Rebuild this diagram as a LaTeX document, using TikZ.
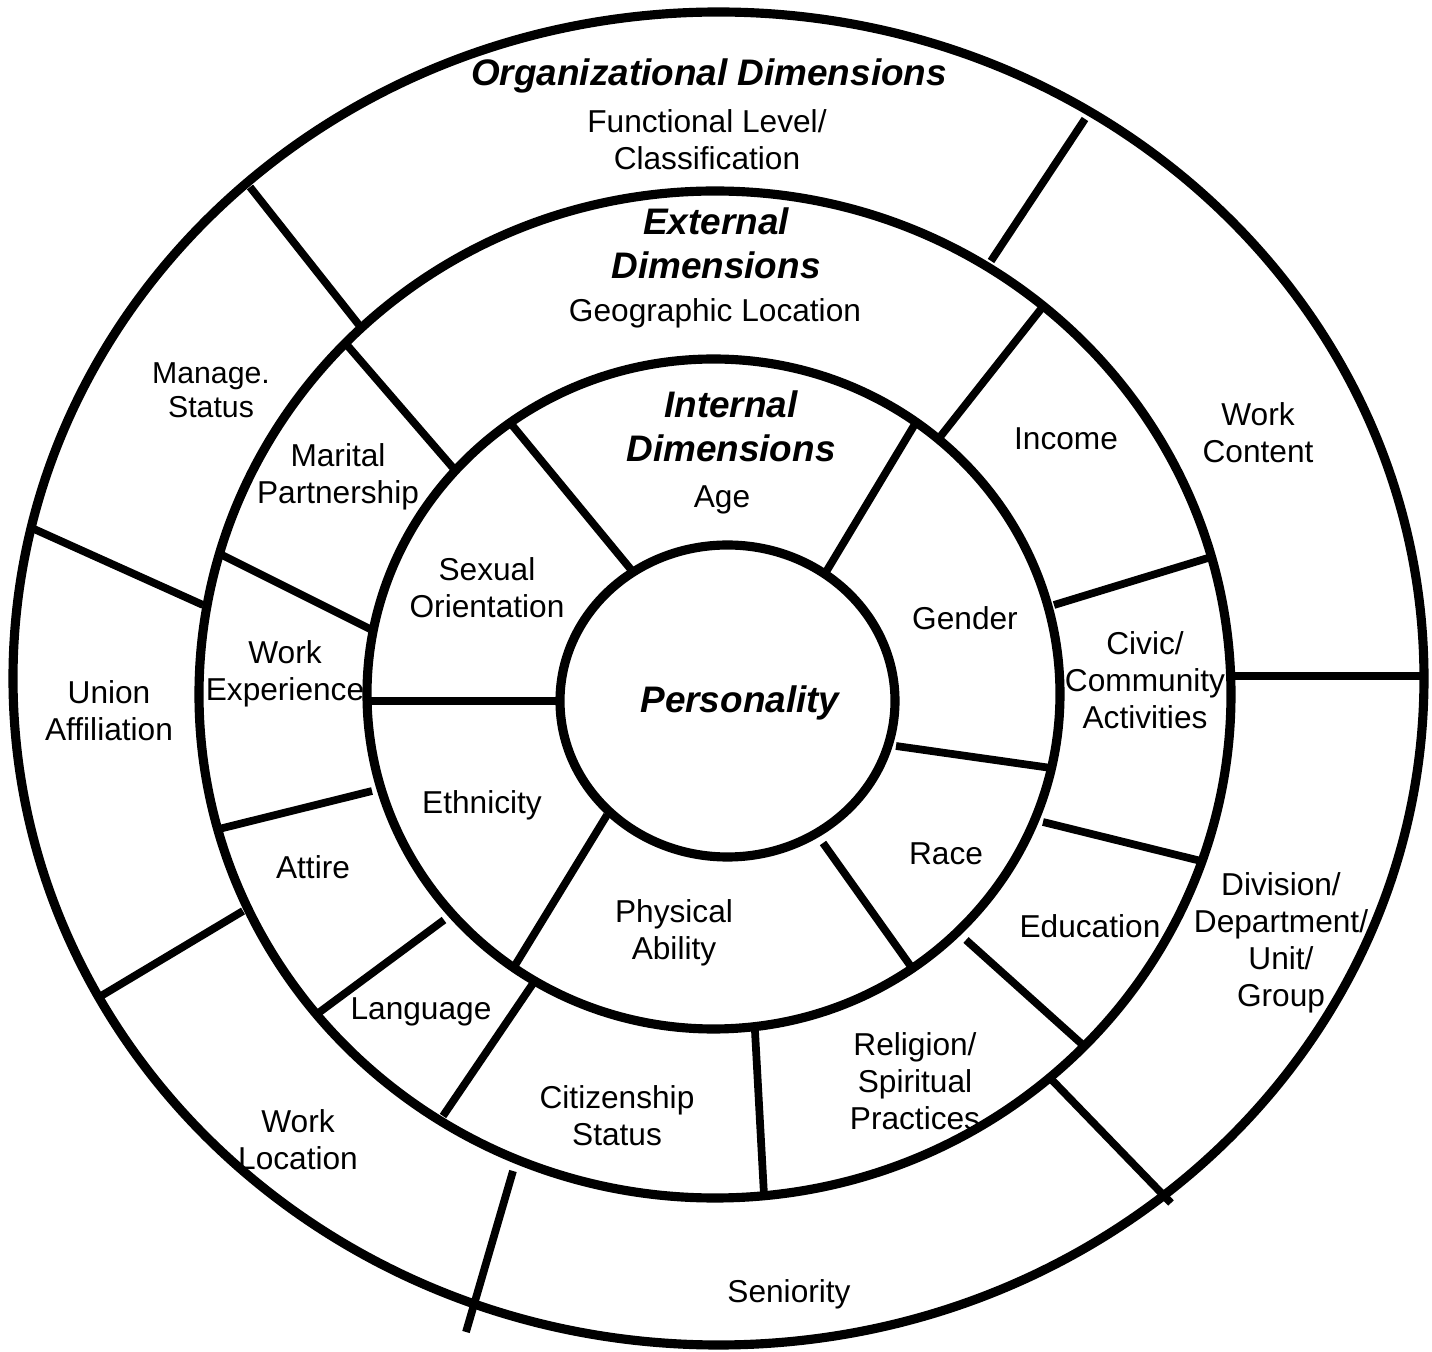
\documentclass[tikz,border=0pt]{standalone}
\usepackage{fontspec}
\setmainfont{Liberation Sans}
\usepackage{tikz}
\tikzset{>=latex}
\def\ringwidth{2.6pt}
\def\splitwidth{2.2pt}
\tikzset{
  ring/.style={line width=\ringwidth},
  split/.style={line width=\splitwidth},
  dimtext/.style={font=\fontsize{9}{10.5}\selectfont, align=center, inner sep=0pt},
  dimsmall/.style={font=\fontsize{8.6}{9.7}\selectfont, align=center, inner sep=0pt},
  dimhead/.style={font=\fontsize{10.5}{12.6}\selectfont\bfseries\itshape, align=center, inner sep=0pt}
}

\begin{document}
\begin{tikzpicture}[x=0.01cm, y=-0.01cm]
    \useasboundingbox (0,0) rectangle (1432,1352);

    % Rings
    \draw[ring] (718.5,678.5) ellipse [x radius=705.5, y radius=666.5];
    \draw[ring] (715,694.5) ellipse [x radius=516, y radius=503.5];
    \draw[ring] (713.5,694) ellipse [x radius=346.5, y radius=335];
    \draw[ring] (727.5,701) ellipse [x radius=167.5, y radius=156];

    % Internal dividers
    \foreach \xa/\ya/\xb/\yb in {512/425/633/572, 915/424/826/572, 896/746/1051/768,
                                 823/843/912/968, 607/815/514/967, 370/701/558/701}{
        \draw[split] (\xa,\ya) -- (\xb,\yb);
    }

    % External dividers
    \foreach \xa/\ya/\xb/\yb in {347/345/454/469, 1041/309/940/437, 1054/605/1208/558,
                                 1043/822/1201/861, 966/940/1084/1046, 755/1031/764/1195,
                                 534/982/443/1116, 444/920/317/1014, 219/829/372/791,
                                 220/554/370/629}{
        \draw[split] (\xa,\ya) -- (\xb,\yb);
    }

    % Organizational dividers
    \foreach \xa/\ya/\xb/\yb in {250/187/359/325, 991/261/1085/119, 1229/676/1424/676,
                                 1051/1079/1171/1203, 513/1171/466/1332, 96/999/243/911,
                                 34/529/203/605}{
        \draw[split] (\xa,\ya) -- (\xb,\yb);
    }

    % Personality and internal dimensions
    \node[dimhead] (pers) at (740,703) {Personality};
    \node[dimhead] (inthead) at (731,426) {Internal\\Dimensions};
    \node[dimtext] (age) at (722,500) {Age};
    \node[dimtext] (gender) at (965,618) {Gender};
    \node[dimtext] (race) at (946,854) {Race};
    \node[dimtext] (physical) at (674,933) {Physical\\Ability};
    \node[dimtext] (ethnicity) at (482,805) {Ethnicity};
    \node[dimtext] (sexual) at (487,588) {Sexual\\Orientation};

    % External dimensions
    \node[dimhead] (exthead) at (716,243) {External\\Dimensions};
    \node[dimtext] (geo) at (715,313) {Geographic Location};
    \node[dimtext] (income) at (1066,439) {Income};
    \node[dimtext] (civic) at (1145,680) {Civic/\\Community\\Activities};
    \node[dimtext] (education) at (1090,926) {Education};
    \node[dimtext] (religion) at (915,1081) {Religion/\\Spiritual\\Practices};
    \node[dimtext] (citizen) at (617,1116) {Citizenship\\Status};
    \node[dimtext] (language) at (421,1012) {Language};
    \node[dimtext] (attire) at (313,867) {Attire};
    \node[dimtext] (workexp) at (285,674) {Work\\Experience};
    \node[dimtext] (marital) at (338,477) {Marital\\Partnership};

    % Organizational dimensions
    \node[dimhead] (orghead) at (709,76) {Organizational Dimensions};
    \node[dimtext] (functional) at (707,140) {Functional Level/\\Classification};
    \node[dimtext] (content) at (1258,433) {Work\\Content};
    \node[dimtext] (division) at (1281,943) {Division/\\Department/\\Unit/\\Group};
    \node[dimtext] (seniority) at (789,1294) {Seniority};
    \node[dimtext] (worklocation) at (298,1140) {Work\\Location};
    \node[dimtext] (union) at (109,711) {Union\\Affiliation};
    \node[dimsmall] (manage) at (211,390) {Manage.\\Status};

\end{tikzpicture}
\end{document}
